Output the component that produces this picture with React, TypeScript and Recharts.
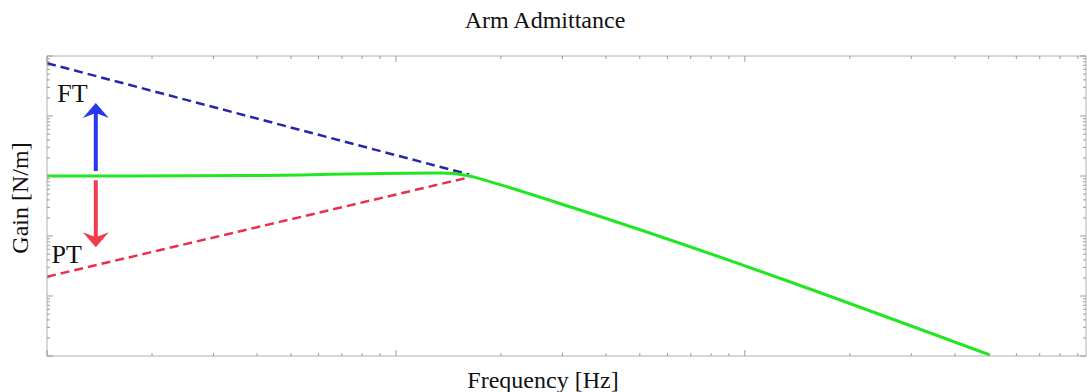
import { LineChart, Line, XAxis, YAxis, ReferenceLine, ReferenceDot } from 'recharts';

// Log-log Bode-style plot
const freqFT = [1, 16.2];
const gainFT = [76000, 1060];

const freqPT = [1, 16.2];
const gainPT = [21, 950];

const freqArm = [1, 3.8, 9.0, 13.4, 16.0, 19.2, 33, 504];
const gainArm = [1000, 1020, 1100, 1120, 1020, 760, 282, 1.04];

// arrow annotations (frequency, gain from -> to)
const arrowFreq = 1.38;
const arrowUp = [1210, 16500];
const arrowDown = [850, 65];

const xTicks = [1, 2, 3, 4, 5, 6, 7, 8, 9, 10, 20, 30, 40, 50, 60, 70, 80, 90, 100, 200, 300, 400, 500, 600, 700, 800, 900];
const yDecades = [1, 10, 100, 1000, 10000];
const yTicks = [...yDecades.flatMap((d) => [1, 2, 3, 4, 5, 6, 7, 8, 9].map((m) => m * d)), 100000];

const ftData = freqFT.map((f, i) => ({ f, g: gainFT[i] }));
const ptData = freqPT.map((f, i) => ({ f, g: gainPT[i] }));
const armData = freqArm.map((f, i) => ({ f, g: gainArm[i] }));

const FONT = "'Liberation Serif', 'Times New Roman', serif";
const TICK = '#9a9a9a';
const FRAME = '#b0b0b0';

const isMajor = (v: number) => Math.abs(Math.log10(v) - Math.round(Math.log10(v))) < 1e-6;
const tickLen = (v: number) => (isMajor(v) ? 6 : 3);

const BottomTick = ({ x, y, payload }: any) => (
  <line x1={x} x2={x} y1={y} y2={y - tickLen(payload.value)} stroke={TICK} />
);
const TopTick = ({ x, y, payload }: any) => (
  <line x1={x} x2={x} y1={y} y2={y + tickLen(payload.value)} stroke={TICK} />
);
const LeftTick = ({ x, y, payload }: any) => (
  <line x1={x} x2={x + tickLen(payload.value)} y1={y} y2={y} stroke={TICK} />
);
const RightTick = ({ x, y, payload }: any) => (
  <line x1={x} x2={x - tickLen(payload.value)} y1={y} y2={y} stroke={TICK} />
);

const arrowShape = (color: string) => (props: any) => {
  const { x1, y1, x2, y2 } = props;
  if (x1 == null || y1 == null) return <g />;
  const dir = Math.sign(y2 - y1);
  const back = y2 - dir * 15;
  const notch = y2 - dir * 10;
  return (
    <g>
      <line x1={x1} y1={y1} x2={x2} y2={notch} stroke={color} strokeWidth={4} />
      <polygon
        points={`${x2},${y2} ${x2 + 13},${back} ${x2},${notch} ${x2 - 13},${back}`}
        fill={color}
      />
    </g>
  );
};

const textShape = (value: string) => (props: any) => (
  <text x={props.cx} y={props.cy} fontFamily={FONT} fontSize={26} fill="#111">
    {value}
  </text>
);

export default function App() {
  return (
    <div style={{ position: 'fixed', left: 0, top: 0, width: 1087, height: 392, background: '#fff' }}>
      <LineChart
        width={1087}
        height={392}
        margin={{ top: 55, right: 0, bottom: 35, left: 46 }}
      >
        <XAxis
          xAxisId="b"
          dataKey="f"
          type="number"
          scale="log"
          domain={[1, 950]}
          allowDataOverflow
          ticks={xTicks}
          height={1}
          tickSize={0}
          tickMargin={0}
          tickLine={false}
          tick={BottomTick}
          axisLine={{ stroke: FRAME }}
          interval={0}
        />
        <XAxis
          xAxisId="t"
          orientation="top"
          dataKey="f"
          type="number"
          scale="log"
          domain={[1, 950]}
          allowDataOverflow
          ticks={xTicks}
          height={1}
          tickSize={0}
          tickMargin={0}
          tickLine={false}
          tick={TopTick}
          axisLine={{ stroke: FRAME }}
          interval={0}
        />
        <YAxis
          yAxisId="l"
          type="number"
          scale="log"
          domain={[1, 100000]}
          allowDataOverflow
          ticks={yTicks}
          width={1}
          tickSize={0}
          tickMargin={0}
          tickLine={false}
          tick={LeftTick}
          axisLine={{ stroke: FRAME }}
          interval={0}
        />
        <YAxis
          yAxisId="r"
          orientation="right"
          type="number"
          scale="log"
          domain={[1, 100000]}
          allowDataOverflow
          ticks={yTicks}
          width={1}
          tickSize={0}
          tickMargin={0}
          tickLine={false}
          tick={RightTick}
          axisLine={{ stroke: FRAME }}
          interval={0}
        />

        {/* FT (force-tracking) limit, dashed blue */}
        <Line
          data={ftData}
          dataKey="g"
          xAxisId="b"
          yAxisId="l"
          stroke="#2626a8"
          strokeWidth={2.5}
          strokeDasharray="9 5"
          dot={false}
          isAnimationActive={false}
        />
        {/* PT (position-tracking) limit, dashed red */}
        <Line
          data={ptData}
          dataKey="g"
          xAxisId="b"
          yAxisId="l"
          stroke="#ea2f4b"
          strokeWidth={2.5}
          strokeDasharray="9 5"
          dot={false}
          isAnimationActive={false}
        />
        {/* arm admittance */}
        <Line
          data={armData}
          dataKey="g"
          xAxisId="b"
          yAxisId="l"
          stroke="#22e622"
          strokeWidth={3}
          dot={false}
          type="monotone"
          isAnimationActive={false}
        />

        <ReferenceLine
          xAxisId="b"
          yAxisId="l"
          segment={[
            { x: arrowFreq, y: arrowUp[0] },
            { x: arrowFreq, y: arrowUp[1] },
          ]}
          shape={arrowShape('#2838ee')}
        />
        <ReferenceLine
          xAxisId="b"
          yAxisId="l"
          segment={[
            { x: arrowFreq, y: arrowDown[0] },
            { x: arrowFreq, y: arrowDown[1] },
          ]}
          shape={arrowShape('#f03c4c')}
        />
        <ReferenceDot xAxisId="b" yAxisId="l" x={1.07} y={17000} r={0} shape={textShape('FT')} />
        <ReferenceDot xAxisId="b" yAxisId="l" x={1.03} y={35} r={0} shape={textShape('PT')} />
      </LineChart>

      <svg
        width={1087}
        height={392}
        style={{ position: 'absolute', left: 0, top: 0, pointerEvents: 'none' }}
      >
        <text x={545} y={28} textAnchor="middle" fontFamily={FONT} fontSize={24} fill="#111">
          Arm Admittance
        </text>
        <text x={543} y={388} textAnchor="middle" fontFamily={FONT} fontSize={24} fill="#111">
          Frequency [Hz]
        </text>
        <text
          x={0}
          y={0}
          transform="translate(28,198) rotate(-90)"
          textAnchor="middle"
          fontFamily={FONT}
          fontSize={24}
          fill="#111"
        >
          Gain [N/m]
        </text>
      </svg>
    </div>
  );
}
